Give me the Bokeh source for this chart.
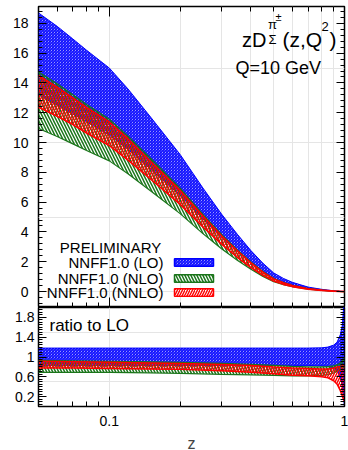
import numpy as np
from bokeh.plotting import figure
from bokeh.models import (LinearAxis, LogAxis, FixedTicker, PrintfTickFormatter,
                          Label, BoxAnnotation)
from bokeh.layouts import column
from bokeh.embed import file_html
from bokeh.resources import INLINE

# ---------------- data ----------------
z = [0.05, 0.06, 0.07, 0.08, 0.1, 0.12, 0.15, 0.2, 0.25, 0.3, 0.35, 0.4,
     0.45, 0.5, 0.55, 0.6, 0.7, 0.8, 0.9, 0.95, 1.0]
lo_hi = [18.7, 17.8, 16.95, 16.2, 15.0, 13.6, 11.7, 9.2, 6.95, 5.2, 3.85, 2.75,
         1.9, 1.25, 0.88, 0.62, 0.3, 0.15, 0.05, 0.02, 0.0]
lo_lo = [13.2, 12.5, 11.9, 11.4, 10.5, 9.55, 8.2, 6.45, 4.88, 3.65, 2.7, 1.93,
         1.33, 0.87, 0.61, 0.43, 0.21, 0.10, 0.032, 0.01, 0.0]
nlo_hi = [14.74, 13.95, 13.21, 12.56, 11.57, 10.43, 8.93, 6.94, 5.18, 3.84, 2.80,
          1.98, 1.35, 0.88, 0.61, 0.425, 0.203, 0.102, 0.034, 0.015, 0.0]
nlo_lo = [10.94, 10.41, 9.91, 9.47, 8.77, 7.90, 6.75, 5.23, 3.89, 2.87, 2.10,
          1.49, 1.02, 0.668, 0.466, 0.326, 0.157, 0.080, 0.029, 0.013, 0.0]
nnlo_hi = [14.50, 13.72, 13.00, 12.36, 11.38, 10.26, 8.73, 6.79, 5.07, 3.75, 2.74,
           1.93, 1.31, 0.848, 0.589, 0.41, 0.196, 0.097, 0.033, 0.014, 0.0]
nnlo_lo = [12.36, 11.76, 11.20, 10.64, 9.79, 8.82, 7.54, 5.85, 4.33, 3.18, 2.30,
           1.61, 1.09, 0.70, 0.48, 0.33, 0.157, 0.076, 0.022, 0.006, 0.0]

rz = [0.05, 0.07, 0.1, 0.15, 0.2, 0.3, 0.4, 0.5, 0.6, 0.7, 0.8, 0.85, 0.9,
      0.93, 0.96, 0.98, 1.0]
r_lo_hi = [1.18, 1.18, 1.18, 1.18, 1.18, 1.18, 1.18, 1.18, 1.18, 1.18, 1.185,
           1.2, 1.24, 1.3, 1.45, 1.65, 2.3]
r_lo_lo = [0.83, 0.83, 0.83, 0.83, 0.83, 0.83, 0.83, 0.83, 0.83, 0.83, 0.82,
           0.81, 0.77, 0.72, 0.6, 0.4, 0.0]
r_nlo_hi = [0.93, 0.92, 0.91, 0.9, 0.89, 0.87, 0.85, 0.83, 0.81, 0.8, 0.8,
            0.805, 0.82, 0.84, 0.88, 0.93, 0.98]
r_nlo_lo = [0.69, 0.69, 0.69, 0.68, 0.67, 0.65, 0.64, 0.63, 0.62, 0.62, 0.63,
            0.645, 0.68, 0.71, 0.75, 0.78, 0.8]
r_nnlo_hi = [0.915, 0.905, 0.895, 0.88, 0.87, 0.85, 0.83, 0.8, 0.78, 0.77, 0.76,
             0.76, 0.78, 0.8, 0.81, 0.82, 0.82]
r_nnlo_lo = [0.78, 0.78, 0.77, 0.76, 0.75, 0.72, 0.69, 0.66, 0.63, 0.62, 0.6,
             0.58, 0.52, 0.45, 0.32, 0.2, 0.1]

legend_labels = ["NNFF1.0 (LO)", "NNFF1.0 (NLO)", "NNFF1.0 (NNLO)"]
x_major = [0.1, 1.0]
x_minor = [0.05, 0.06, 0.07, 0.08, 0.09, 0.2, 0.3, 0.4, 0.5, 0.6, 0.7, 0.8, 0.9]
y_major_top = [0, 2, 4, 6, 8, 10, 12, 14, 16, 18]
y_major_bot = [0.2, 0.6, 1.0, 1.4, 1.8]

# ---------------- style ----------------
FONT = "Liberation Sans"
BLUE = "#0000ff"
GREEN = "#1a751a"
RED = "#ff0000"
styles = [
    dict(color=BLUE, pattern="\\", scale=3.0, weight=1.2, lw=1.0),
    dict(color=GREEN, pattern="\\", scale=6.0, weight=1.5, lw=1.2),
    dict(color=RED, pattern="/", scale=5.0, weight=1.4, lw=1.5),
]
FW = 306
LEFT = 38
RIGHT = 4


def make_fig(fh, top, bottom, yr):
    p = figure(x_axis_type="log", x_range=(0.05, 1.0), y_range=yr,
               frame_width=FW, frame_height=fh,
               min_border_left=LEFT, min_border_right=RIGHT,
               min_border_top=top, min_border_bottom=bottom,
               x_axis_location=None, y_axis_location=None,
               toolbar_location=None, output_backend="svg",
               background_fill_color="white", border_fill_color="white")
    p.outline_line_color = "black"
    p.outline_line_width = 1.5
    p.outline_line_alpha = 1.0
    return p


def tick_axis(p, cls, side, positions, length):
    ax = cls(ticker=FixedTicker(ticks=[], minor_ticks=positions),
             major_tick_in=0, major_tick_out=0,
             minor_tick_in=length, minor_tick_out=0,
             minor_tick_line_color="black", minor_tick_line_width=1,
             major_label_standoff=0, axis_line_color=None)
    p.add_layout(ax, side)


def band(p, x, lo, hi, st):
    p.varea(x=x, y1=lo, y2=hi, fill_color=None, fill_alpha=0,
            hatch_pattern=st["pattern"], hatch_color=st["color"],
            hatch_scale=st["scale"], hatch_weight=st["weight"])
    p.line(x, lo, line_color=st["color"], line_width=st["lw"])
    p.line(x, hi, line_color=st["color"], line_width=st["lw"])


# ---------------- top panel ----------------
top = make_fig(301, 6, 0, (-1.07, 19.13))
band(top, z, lo_lo, lo_hi, styles[0])
band(top, z, nlo_lo, nlo_hi, styles[1])
band(top, z, nnlo_lo, nnlo_hi, styles[2])

y_minor_top = [round(v, 2) for v in np.arange(-0.8, 19.0, 0.4)]
la = LinearAxis(ticker=FixedTicker(ticks=y_major_top, minor_ticks=y_minor_top),
                formatter=PrintfTickFormatter(format="%g"),
                major_tick_in=8, major_tick_out=0, minor_tick_in=4, minor_tick_out=0,
                major_label_standoff=10, major_label_text_font=FONT,
                major_label_text_font_size="14px", major_label_text_color="black",
                axis_line_color=None)
top.add_layout(la, "left")
tick_axis(top, LinearAxis, "right", y_minor_top, 4)
tick_axis(top, LinearAxis, "right", y_major_top, 8)
tick_axis(top, LogAxis, "above", x_minor, 5)
tick_axis(top, LogAxis, "above", [0.1], 10)
tick_axis(top, LogAxis, "below", x_minor, 5)
tick_axis(top, LogAxis, "below", [0.1], 10)


def lab(p, text, x, y, size, align="left", baseline="alphabetic"):
    p.add_layout(Label(x=x, y=y, x_units="screen", y_units="screen", text=text,
                       text_font=FONT, text_font_size=size, text_color="black",
                       text_align=align, text_baseline=baseline))


# title pieces (frame-relative screen units)
lab(top, "zD", 228, 268, "20px", align="right")
lab(top, "\u03c0", 234, 283, "13px", align="center", baseline="middle")
lab(top, "\u00b1", 240, 291, "11px", align="center", baseline="middle")
lab(top, "\u03a3", 234, 268, "13px", align="center", baseline="middle")
lab(top, "(z,Q", 244, 268, "21px")
lab(top, "2", 283, 281, "13px", baseline="middle")
lab(top, ")", 291, 268, "21px")
lab(top, "Q=10 GeV", 197, 240, "18px", baseline="middle")

# legend
lab(top, "PRELIMINARY", 72, 60, "15px", align="center", baseline="middle")
leg_y = [45, 29, 15]
for txt, yy, st in zip(legend_labels, leg_y, styles):
    lab(top, txt, 125, yy, "15px", align="right", baseline="middle")
    top.add_layout(BoxAnnotation(left=136, right=175, bottom=yy - 3.7, top=yy + 3.7,
                                 left_units="screen", right_units="screen",
                                 bottom_units="screen", top_units="screen",
                                 fill_color=None, fill_alpha=0,
                                 hatch_pattern=st["pattern"], hatch_color=st["color"],
                                 hatch_scale=st["scale"], hatch_weight=st["weight"],
                                 line_color=st["color"], line_width=1.5, line_alpha=1))

# ---------------- ratio panel ----------------
bot = make_fig(99, 0, 44, (0.0, 2.0))
band(bot, rz, r_lo_lo, r_lo_hi, styles[0])
band(bot, rz, r_nlo_lo, r_nlo_hi, styles[1])
band(bot, rz, r_nnlo_lo, r_nnlo_hi, styles[2])

y_minor_bot = [round(v, 2) for v in np.arange(0.05, 2.0, 0.05)]
lb = LinearAxis(ticker=FixedTicker(ticks=y_major_bot, minor_ticks=y_minor_bot),
                formatter=PrintfTickFormatter(format="%g"),
                major_tick_in=8, major_tick_out=0, minor_tick_in=4, minor_tick_out=0,
                major_label_standoff=4, major_label_text_font=FONT,
                major_label_text_font_size="14px", major_label_text_color="black",
                axis_line_color=None)
bot.add_layout(lb, "left")
tick_axis(bot, LinearAxis, "right", y_minor_bot, 4)
tick_axis(bot, LinearAxis, "right", y_major_bot, 8)
bx = LogAxis(ticker=FixedTicker(ticks=x_major, minor_ticks=x_minor),
             formatter=PrintfTickFormatter(format="%g"),
             major_tick_in=10, major_tick_out=0, minor_tick_in=5, minor_tick_out=0,
             major_label_standoff=9, major_label_text_font=FONT,
             major_label_text_font_size="14px", major_label_text_color="black",
             axis_label="z", axis_label_text_font=FONT, axis_label_text_font_size="16px",
             axis_label_text_font_style="normal", axis_label_standoff=6,
             axis_line_color=None)
bot.add_layout(bx, "below")
lab(bot, "ratio to LO", 11, 81, "17px", baseline="middle")

layout = column(top, bot, spacing=0)
open("out.html", "w").write(file_html(layout, INLINE))
